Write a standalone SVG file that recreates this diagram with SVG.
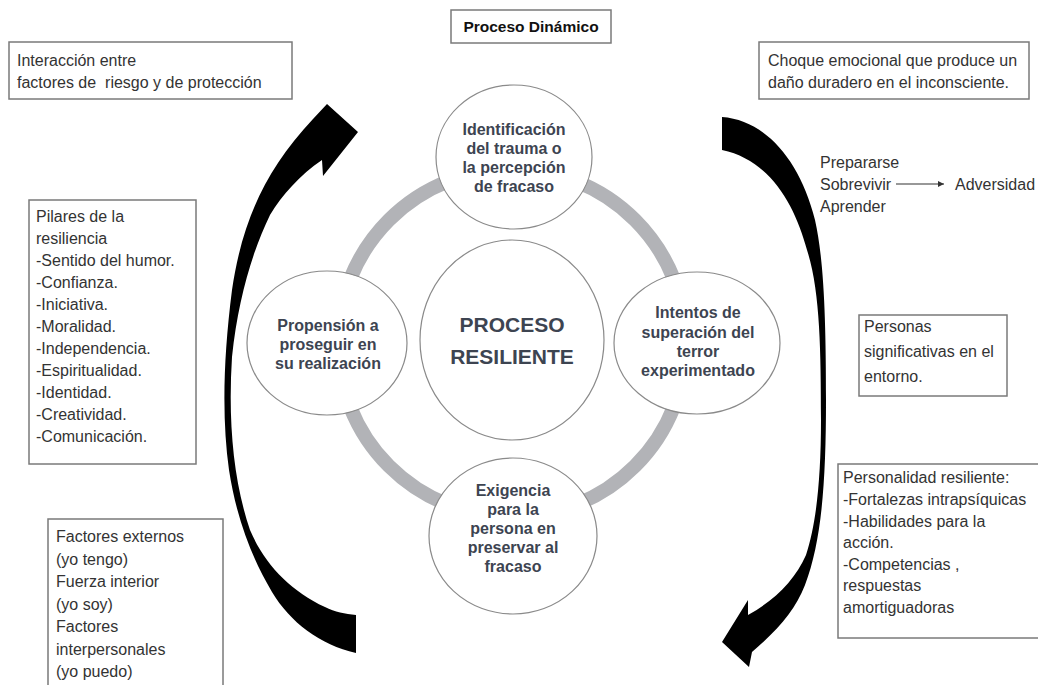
<svg xmlns="http://www.w3.org/2000/svg" width="1038" height="685" viewBox="0 0 1038 685">
<style>
.box{fill:#fff;stroke:#7a7a7a;stroke-width:1.5}
.bt{font-family:"Liberation Sans",Arial,sans-serif;font-size:16px;fill:#333}
.ct{font-family:"Liberation Sans",Arial,sans-serif;font-size:16px;font-weight:bold;fill:#3d4451;text-anchor:middle}
.node{fill:#fff;stroke:#8a8a8a;stroke-width:1.2}
.big{fill:#000}
</style>
<defs>
<marker id="ah" markerWidth="8" markerHeight="8" refX="6" refY="3" orient="auto" markerUnits="userSpaceOnUse">
<path d="M0,0 L6,3 L0,6 Z" fill="#333"/>
</marker>
</defs>
<rect width="1038" height="685" fill="#fff"/>

<g id="connectors">
<circle cx="512" cy="343" r="174" fill="none" stroke="#b2b3b7" stroke-width="14"/>
<path class="big" d="M356,653 C320,645 290,622 272,592 C250,555 236,515 229,470 C222,420 223,360 232,290 C242,222 265,170 313,119 L327,104 L358,132 L323,176 L322,160 C300,175 282,195 270,215 C252,252 238,300 232,357 C228,420 233,480 250,530 C265,565 290,590 325,607 C335,612 345,614 356,615 Z"/>
<path class="big" d="M722,117 C765,120 800,160 815,220 C824,260 826,320 826,400 C826,480 822,540 805,585 C795,610 780,628 752,652 L749,667 L722,642 L748,600 L748,615 C775,600 795,580 806,555 C816,525 821,480 821,420 C821,350 820,290 807,250 C795,205 770,160 722,150 Z"/>
<line x1="896" y1="184" x2="944" y2="184" stroke="#333" stroke-width="1.2" marker-end="url(#ah)"/>
</g>

<g id="title">
<rect class="box" x="451" y="10" width="160" height="33"/>
<text x="531" y="32" font-family="Liberation Sans,Arial,sans-serif" font-size="15.5" font-weight="bold" fill="#111" text-anchor="middle">Proceso Dinámico</text>
</g>

<g id="n-center">
<ellipse class="node" cx="512" cy="340" rx="92" ry="100"/>
<text class="ct" x="512" y="332" style="font-size:21px">PROCESO</text>
<text class="ct" x="512" y="364" style="font-size:21px">RESILIENTE</text>
</g>
<g id="n-top">
<ellipse class="node" cx="514" cy="157" rx="78" ry="72"/>
<text class="ct" x="514" y="135">Identificación</text>
<text class="ct" x="514" y="154">del trauma o</text>
<text class="ct" x="514" y="173">la percepción</text>
<text class="ct" x="514" y="192">de fracaso</text>
</g>
<g id="n-left">
<ellipse class="node" cx="327" cy="343" rx="80" ry="72"/>
<text class="ct" x="328" y="331">Propensión a</text>
<text class="ct" x="328" y="350">proseguir en</text>
<text class="ct" x="328" y="369">su realización</text>
</g>
<g id="n-right">
<ellipse class="node" cx="697" cy="343" rx="83" ry="71"/>
<text class="ct" x="698" y="318">Intentos de</text>
<text class="ct" x="698" y="338">superación del</text>
<text class="ct" x="698" y="357">terror</text>
<text class="ct" x="698" y="376">experimentado</text>
</g>
<g id="n-bottom">
<ellipse class="node" cx="513" cy="536" rx="84" ry="78"/>
<text class="ct" x="513" y="496">Exigencia</text>
<text class="ct" x="513" y="515">para la</text>
<text class="ct" x="513" y="534">persona en</text>
<text class="ct" x="513" y="553">preservar al</text>
<text class="ct" x="513" y="572">fracaso</text>
</g>

<g id="b-interaccion">
<rect class="box" x="9" y="42" width="283" height="57"/>
<text class="bt" x="17" y="66">Interacción entre</text>
<text class="bt" x="17" y="88" xml:space="preserve">factores de  riesgo y de protección</text>
</g>
<g id="b-choque">
<rect class="box" x="759" y="42" width="270" height="57"/>
<text class="bt" x="768" y="66">Choque emocional que produce un</text>
<text class="bt" x="768" y="88">daño duradero en el inconsciente.</text>
</g>
<g id="b-preparar">
<text class="bt" x="820" y="168">Prepararse</text>
<text class="bt" x="820" y="190">Sobrevivir</text>
<text class="bt" x="820" y="212">Aprender</text>
<text class="bt" x="955" y="190">Adversidad</text>
</g>
<g id="b-pilares">
<rect class="box" x="29" y="200" width="167" height="264"/>
<text class="bt" x="36" y="222">Pilares de la</text>
<text class="bt" x="36" y="244">resiliencia</text>
<text class="bt" x="36" y="266">-Sentido del humor.</text>
<text class="bt" x="36" y="288">-Confianza.</text>
<text class="bt" x="36" y="310">-Iniciativa.</text>
<text class="bt" x="36" y="332">-Moralidad.</text>
<text class="bt" x="36" y="354">-Independencia.</text>
<text class="bt" x="36" y="376">-Espiritualidad.</text>
<text class="bt" x="36" y="398">-Identidad.</text>
<text class="bt" x="36" y="420">-Creatividad.</text>
<text class="bt" x="36" y="442">-Comunicación.</text>
</g>
<g id="b-factores">
<rect class="box" x="48" y="519" width="175" height="180"/>
<text class="bt" x="56" y="542">Factores externos</text>
<text class="bt" x="56" y="565">(yo tengo)</text>
<text class="bt" x="56" y="587">Fuerza interior</text>
<text class="bt" x="56" y="610">(yo soy)</text>
<text class="bt" x="56" y="632">Factores</text>
<text class="bt" x="56" y="655">interpersonales</text>
<text class="bt" x="56" y="677">(yo puedo)</text>
</g>
<g id="b-personas">
<rect class="box" x="859" y="315" width="148" height="81"/>
<text class="bt" x="864" y="332">Personas</text>
<text class="bt" x="864" y="357">significativas en el</text>
<text class="bt" x="864" y="382">entorno.</text>
</g>
<g id="b-personalidad">
<rect class="box" x="838" y="464" width="210" height="174"/>
<text class="bt" x="843" y="483">Personalidad resiliente:</text>
<text class="bt" x="843" y="505">-Fortalezas intrapsíquicas</text>
<text class="bt" x="843" y="527">-Habilidades para la</text>
<text class="bt" x="843" y="548">acción.</text>
<text class="bt" x="843" y="570">-Competencias ,</text>
<text class="bt" x="843" y="591">respuestas</text>
<text class="bt" x="843" y="613">amortiguadoras</text>
</g>
</svg>
